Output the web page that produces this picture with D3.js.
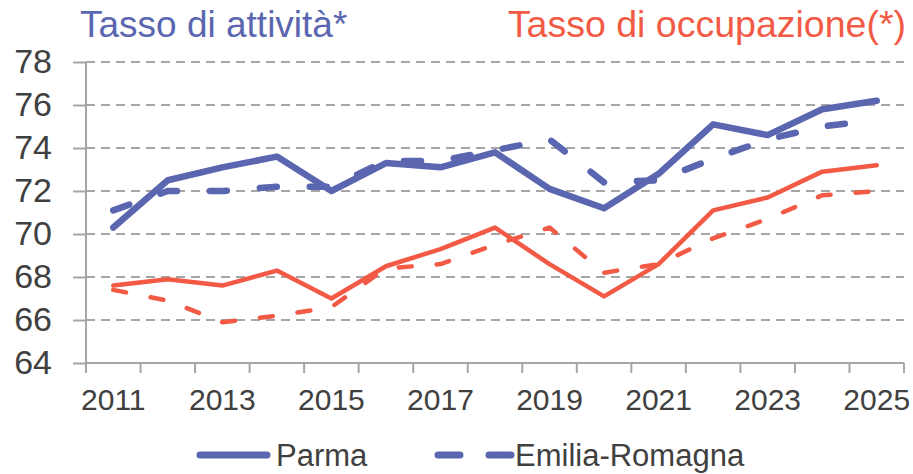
<!DOCTYPE html>
<html lang="it">
	<head>
		<meta charset="utf-8">
		<title>Tasso di attività e occupazione - Parma / Emilia-Romagna</title>
		<script type="text/javascript" src="https://d3js.org/d3.v7.min.js"></script>
		<style type="text/css">
			body { margin: 0; background: #fff; }
			text { font-family: "Liberation Sans", Arial, sans-serif; }
		</style>
	</head>
	<body>
		<script type="text/javascript">

			//Data
			var years = ["2011","2012","2013","2014","2015","2016","2017","2018","2019","2020","2021","2022","2023","2024","2025"];
			var attParma = [70.3, 72.5, 73.1, 73.6, 72.0, 73.3, 73.1, 73.8, 72.1, 71.2, 72.8, 75.1, 74.6, 75.8, 76.2];
			var attER    = [71.1, 72.0, 72.0, 72.2, 72.2, 73.4, 73.4, 73.9, 74.4, 72.4, 72.5, 73.5, 74.4, 75.0, 75.3];
			var occParma = [67.6, 67.9, 67.6, 68.3, 67.0, 68.5, 69.3, 70.3, 68.6, 67.1, 68.6, 71.1, 71.7, 72.9, 73.2];
			var occER    = [67.4, 66.9, 65.9, 66.2, 66.6, 68.4, 68.6, 69.5, 70.3, 68.2, 68.6, 69.8, 70.7, 71.8, 72.0];
			var yTicks = [64, 66, 68, 70, 72, 74, 76, 78];
			var xLabels = ["2011","2013","2015","2017","2019","2021","2023","2025"];

			var blue = "#5A66B0";
			var red = "#F25A45";
			var grey = "#A6A6A6";
			var txt = "#404040";

			//Width and height
			var w = 913;
			var h = 474;

			var x = d3.scaleBand().domain(years).range([86, 904]).padding(0);
			var y = d3.scaleLinear().domain([64, 78]).range([363, 62]);

			var svg = d3.select("body")
			.append("svg")
			.attr("width", w)
			.attr("height", h);

			//Gridlines
			svg.selectAll("line.grid")
			   .data(yTicks.filter(function(d){ return d > 64; }))
			   .enter()
			   .append("line")
			   .attr("x1", 86).attr("x2", 904)
			   .attr("y1", function(d){ return y(d); })
			   .attr("y2", function(d){ return y(d); })
			   .attr("stroke", grey)
			   .attr("stroke-width", 2)
			   .attr("stroke-dasharray", "9,6");

			//Y axis
			var yAxis = d3.axisLeft(y).tickValues(yTicks).tickSize(13).tickPadding(21);
			var gy = svg.append("g").attr("transform", "translate(86,0)").call(yAxis);
			gy.select(".domain").attr("d", "M0,62V373").attr("stroke", grey).attr("stroke-width", 2);
			gy.selectAll(".tick line").attr("stroke", grey).attr("stroke-width", 2);
			gy.selectAll(".tick text")
			  .attr("fill", txt)
			  .style("font-size", "34px")
			  .style("font-family", "Liberation Sans, Arial, sans-serif");

			//X axis
			var xAxis = d3.axisBottom(x).tickValues(xLabels).tickSize(0).tickPadding(26);
			var gx = svg.append("g").attr("transform", "translate(0,363)").call(xAxis);
			gx.select(".domain").attr("d", "M86,0H904").attr("stroke", grey).attr("stroke-width", 2);
			gx.selectAll(".tick text")
			  .attr("fill", txt)
			  .style("font-size", "30px")
			  .style("font-family", "Liberation Sans, Arial, sans-serif");

			//category boundary ticks
			var bounds = years.map(function(d){ return x(d); }).concat([x.range()[1]]);
			svg.selectAll("line.xtick")
			   .data(bounds)
			   .enter()
			   .append("line")
			   .attr("x1", function(d){ return d; })
			   .attr("x2", function(d){ return d; })
			   .attr("y1", 363).attr("y2", 373)
			   .attr("stroke", grey)
			   .attr("stroke-width", 2);

			//Lines
			var line = d3.line()
			.x(function(d, i){ return x(years[i]) + x.bandwidth() / 2; })
			.y(function(d){ return y(d); });

			var series = [
				{ v: occER, color: red, width: 4.5, dash: "13,25" },
				{ v: attER, color: blue, width: 6.5, dash: "17,33" },
				{ v: occParma, color: red, width: 4.5, dash: null },
				{ v: attParma, color: blue, width: 6.5, dash: null }
			];

			svg.selectAll("path.series")
			   .data(series)
			   .enter()
			   .append("path")
			   .attr("d", function(d){ return line(d.v); })
			   .attr("fill", "none")
			   .attr("stroke", function(d){ return d.color; })
			   .attr("stroke-width", function(d){ return d.width; })
			   .attr("stroke-linecap", "round")
			   .attr("stroke-linejoin", "round")
			   .attr("stroke-dasharray", function(d){ return d.dash; });

			//Titles
			svg.append("text")
			   .attr("x", 80).attr("y", 37)
			   .attr("fill", blue)
			   .style("font-size", "37px")
			   .text("Tasso di attività*");

			svg.append("text")
			   .attr("x", 906).attr("y", 37)
			   .attr("text-anchor", "end")
			   .attr("fill", red)
			   .style("font-size", "37.5px")
			   .text("Tasso di occupazione(*)");

			//Legend
			var legend = svg.append("g");
			legend.append("line")
			   .attr("x1", 200).attr("x2", 267).attr("y1", 455).attr("y2", 455)
			   .attr("stroke", blue).attr("stroke-width", 7).attr("stroke-linecap", "round");
			legend.append("text")
			   .attr("x", 276).attr("y", 466)
			   .attr("fill", txt)
			   .style("font-size", "31px")
			   .text("Parma");
			legend.append("line")
			   .attr("x1", 438).attr("x2", 511).attr("y1", 455).attr("y2", 455)
			   .attr("stroke", blue).attr("stroke-width", 7).attr("stroke-linecap", "round")
			   .attr("stroke-dasharray", "22,29");
			legend.append("text")
			   .attr("x", 515).attr("y", 466)
			   .attr("fill", txt)
			   .style("font-size", "31px")
			   .text("Emilia-Romagna");

		</script>
	</body>
</html>
